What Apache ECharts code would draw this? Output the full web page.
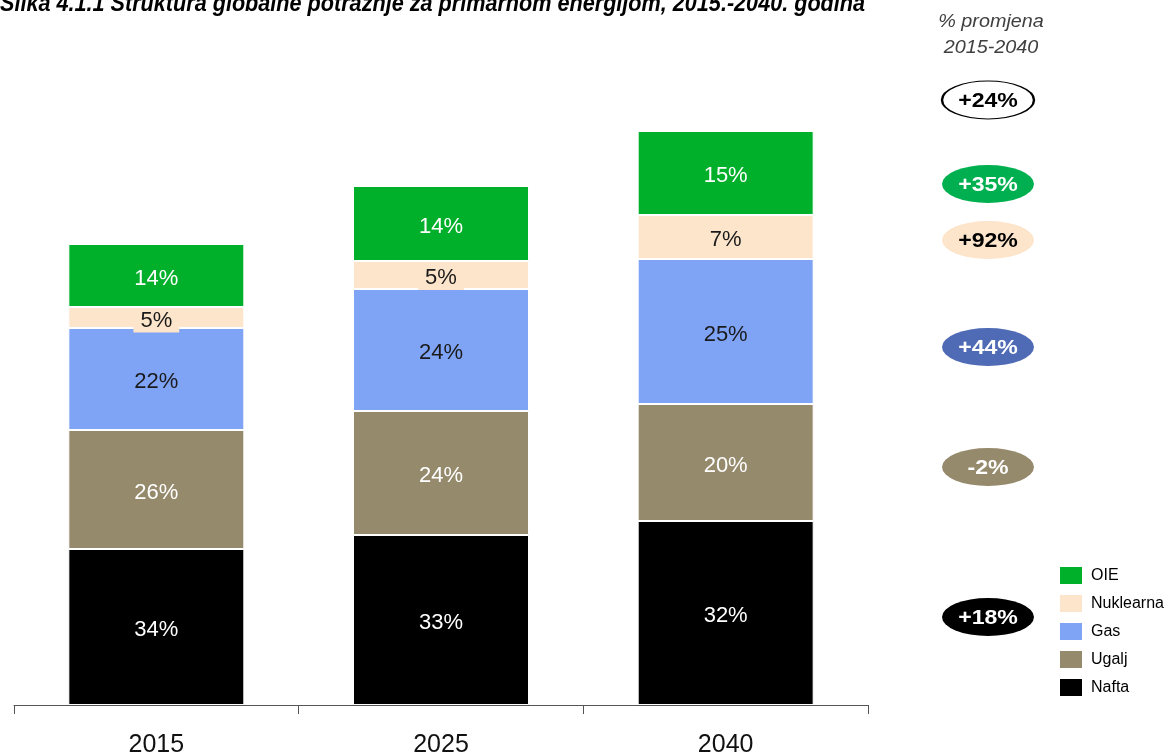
<!DOCTYPE html>
<html><head><meta charset="utf-8">
<script src="https://cdn.jsdelivr.net/npm/echarts@6/dist/echarts.min.js"></script>
<style>html,body{margin:0;padding:0;background:#fff}#c{width:1170px;height:753px}</style>
</head><body><div id="c"></div>
<script>
const categories = ['2015', '2025', '2040'];
const seriesNames = ['Nafta', 'Ugalj', 'Gas', 'Nuklearna', 'OIE'];
const nafta = [156, 170, 184];
const ugalj = [119, 124, 117];
const gas = [102, 122, 145];
const nuklearna = [21, 28, 44];
const oie = [63, 75, 84];
const naftaLbl = ['34%', '33%', '32%'];
const ugaljLbl = ['26%', '24%', '20%'];
const gasLbl = ['22%', '24%', '25%'];
const nuklearnaLbl = ['5%', '5%', '7%'];
const oieLbl = ['14%', '14%', '15%'];
const changeLabels = ['+24%', '+35%', '+92%', '+44%', '-2%', '+18%'];
const titleText = 'Slika 4.1.1 Struktura globalne potražnje za primarnom energijom, 2015.-2040. godina';
const changeTitle = '% promjena\n2015-2040';

const FONT = "'Liberation Sans', Arial, sans-serif";
const colors = { Nafta: '#000000', Ugalj: '#958A6C', Gas: '#7FA3F5', Nuklearna: '#FCE5CB', OIE: '#00B02A' };
const values = { Nafta: nafta, Ugalj: ugalj, Gas: gas, Nuklearna: nuklearna, OIE: oie };
const labels = { Nafta: naftaLbl, Ugalj: ugaljLbl, Gas: gasLbl, Nuklearna: nuklearnaLbl, OIE: oieLbl };
const labelColor = { Nafta: '#fff', Ugalj: '#fff', Gas: '#1a1a1a', Nuklearna: '#1a1a1a', OIE: '#fff' };

const series = seriesNames.map(n => ({
  name: n, type: 'bar', stack: 'total', barWidth: 176,
  itemStyle: { color: colors[n], borderColor: '#fff', borderWidth: 1 },
  label: {
    show: true, position: 'inside', offset: [0, 3], fontFamily: FONT, fontSize: 22, color: labelColor[n],
    formatter: p => labels[n][p.dataIndex],
    backgroundColor: n === 'Nuklearna' ? colors[n] : 'transparent',
    padding: n === 'Nuklearna' ? [2, 7, 0, 7] : 0
  },
  data: values[n]
}));

// badges
const badgeY = [100, 184, 240, 347, 467, 617];
const badgeFill = ['#ffffff', '#00B050', '#FCE5CB', '#4F6BB5', '#968A6C', '#000000'];
const badgeText = ['#000', '#fff', '#000', '#fff', '#fff', '#fff'];
const graphics = [];
changeLabels.forEach((t, i) => {
  graphics.push({
    type: 'circle', x: 988, y: badgeY[i], scaleX: 46 / 19, scaleY: 1,
    shape: { cx: 0, cy: 0, r: 19 },
    style: { fill: badgeFill[i], stroke: i === 0 ? '#000' : null, lineWidth: 1, strokeNoScale: true }
  });
  graphics.push({
    type: 'text', x: 988, y: badgeY[i] + 1, scaleX: 1.1,
    style: { text: t, fill: badgeText[i], font: 'bold 21px ' + FONT, align: 'center', verticalAlign: 'middle' }
  });
});
graphics.push({
  type: 'text', x: 991, y: 9, scaleX: 1.1,
  style: { text: changeTitle, fill: '#404040', font: 'italic 18px ' + FONT, align: 'center', verticalAlign: 'top', lineHeight: 26 }
});
graphics.push({
  type: 'text', x: 0, y: 16, scaleX: 0.94,
  style: { text: titleText, fill: '#000', font: 'italic bold 23px ' + FONT, verticalAlign: 'bottom' }
});

const chart = echarts.init(document.getElementById('c'));
chart.setOption({
  animation: false,
  grid: { left: 14, right: 302, top: 105, bottom: 48, containLabel: false, outerBoundsMode: 'none' },
  legend: {
    data: ['OIE', 'Nuklearna', 'Gas', 'Ugalj', 'Nafta'],
    orient: 'vertical', left: 1055, top: 562, itemWidth: 22, itemHeight: 17, itemGap: 11,
    icon: 'rect', textStyle: { fontFamily: FONT, fontSize: 16, color: '#000', padding: [0, 0, 0, 4] },
    itemStyle: { borderWidth: 0 }
  },
  xAxis: {
    type: 'category', data: categories,
    axisLine: { lineStyle: { color: '#555', width: 1 } },
    axisTick: { show: true, length: 9, lineStyle: { color: '#555' } },
    axisLabel: { fontFamily: FONT, fontSize: 25, color: '#111', margin: 28 }
  },
  yAxis: { type: 'value', min: 0, max: 600, show: false, splitLine: { show: false } },
  series: series,
  graphic: graphics
});
</script></body></html>
